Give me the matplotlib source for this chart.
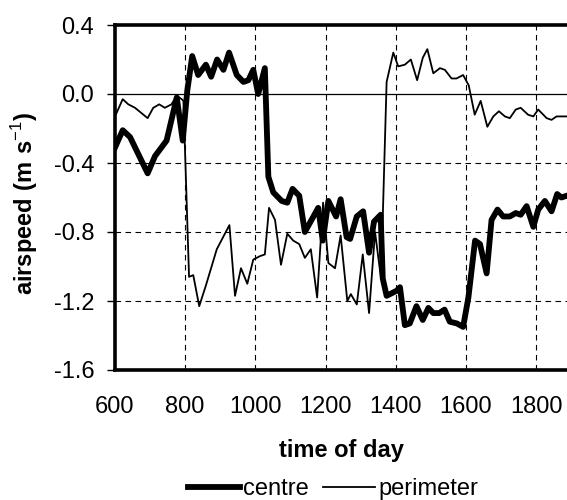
import matplotlib
matplotlib.use("Agg")
import matplotlib.pyplot as plt

plt.rcParams['font.family'] = ['Liberation Sans', 'DejaVu Sans']
plt.rcParams['mathtext.fontset'] = 'custom'
plt.rcParams['mathtext.rm'] = 'Liberation Sans'
plt.rcParams['mathtext.bf'] = 'Liberation Sans:bold'
plt.rcParams['axes.unicode_minus'] = False

# ---- data ----
centre_t = [600, 622, 643, 693, 714, 747, 776, 793, 806, 820, 837, 859, 874, 891,
            909, 925, 947, 966, 980, 994, 1008, 1027, 1037, 1051, 1075, 1091, 1106,
            1125, 1141, 1160, 1179, 1192, 1208, 1230, 1243, 1260, 1270, 1289, 1307,
            1324, 1338, 1357, 1363, 1374, 1403, 1412, 1426, 1440, 1459, 1477, 1493,
            1507, 1524, 1539, 1554, 1574, 1592, 1607, 1626, 1640, 1659, 1673, 1690,
            1706, 1725, 1742, 1756, 1773, 1792, 1806, 1825, 1844, 1860, 1872, 1887]
centre_v = [-0.31, -0.21, -0.25, -0.46, -0.36, -0.27, -0.02, -0.27, 0.02, 0.22, 0.11,
            0.17, 0.10, 0.20, 0.14, 0.24, 0.11, 0.07, 0.08, 0.14, 0.00, 0.15, -0.48,
            -0.57, -0.62, -0.63, -0.55, -0.59, -0.80, -0.73, -0.66, -0.85, -0.62,
            -0.71, -0.61, -0.83, -0.84, -0.71, -0.68, -0.92, -0.74, -0.70, -1.07,
            -1.17, -1.14, -1.12, -1.34, -1.33, -1.23, -1.31, -1.24, -1.27, -1.27,
            -1.25, -1.32, -1.33, -1.35, -1.18, -0.85, -0.87, -1.04, -0.73, -0.67,
            -0.71, -0.71, -0.69, -0.70, -0.65, -0.77, -0.67, -0.62, -0.68, -0.58,
            -0.60, -0.59]

perim_t = [600, 622, 638, 657, 693, 709, 726, 742, 761, 776, 790, 795, 811, 823,
           840, 859, 890, 926, 942, 959, 977, 994, 1013, 1027, 1039, 1056, 1073,
           1091, 1108, 1125, 1141, 1158, 1176, 1193, 1208, 1227, 1243, 1262, 1272,
           1289, 1306, 1324, 1341, 1358, 1374, 1393, 1407, 1426, 1443, 1461, 1477,
           1490, 1507, 1526, 1540, 1559, 1573, 1592, 1608, 1625, 1642, 1661, 1678,
           1694, 1711, 1725, 1742, 1756, 1777, 1792, 1806, 1830, 1844, 1858, 1877,
           1887]
perim_v = [-0.13, -0.03, -0.06, -0.08, -0.14, -0.08, -0.06, -0.08, -0.06, -0.01,
           -0.03, -0.04, -1.06, -1.05, -1.23, -1.11, -0.90, -0.76, -1.17, -1.01,
           -1.10, -0.96, -0.94, -0.93, -0.66, -0.73, -0.99, -0.81, -0.85, -0.87,
           -0.95, -0.90, -1.18, -0.63, -0.98, -1.01, -0.82, -1.20, -1.16, -1.22,
           -0.93, -1.27, -0.80, -1.07, 0.07, 0.24, 0.16, 0.17, 0.20, 0.08, 0.21,
           0.26, 0.12, 0.15, 0.14, 0.09, 0.09, 0.11, 0.05, -0.12, -0.04, -0.19,
           -0.13, -0.10, -0.13, -0.14, -0.09, -0.08, -0.12, -0.13, -0.09, -0.14,
           -0.15, -0.13, -0.13, -0.13]

x_ticks = [600, 800, 1000, 1200, 1400, 1600, 1800]
y_ticks = [-1.6, -1.2, -0.8, -0.4, 0.0, 0.4]
y_ticklabels = ['-1.6', '-1.2', '-0.8', '-0.4', '0.0', '0.4']

FS = 17

fig = plt.figure(figsize=(5.67, 5.0), dpi=100)
ax = fig.add_axes([115/567, 130/500, (567-115)/567, 345/500])

# grid
for xv in x_ticks[1:]:
    ax.axvline(xv, color='black', lw=0.8, ls=(0, (5, 4)), zorder=1)
for yv in [-1.2, -0.8, -0.4]:
    ax.axhline(yv, color='black', lw=0.8, ls=(0, (5, 4)), zorder=1)
ax.axhline(0.0, color='black', lw=0.9, ls='-', zorder=1)

ax.plot(perim_t, perim_v, color='black', lw=1.3, zorder=3, label='perimeter')
ax.plot(centre_t, centre_v, color='black', lw=4.2, zorder=4, label='centre')

ax.set_xlim(600, 1888)
ax.set_ylim(-1.6, 0.4)
ax.set_xticks(x_ticks)
ax.set_yticks(y_ticks)
ax.set_yticklabels(y_ticklabels)
ax.tick_params(axis='x', length=0, pad=19, labelsize=FS)
ax.tick_params(axis='y', length=6, width=1, direction='out', pad=9, labelsize=FS)

for s in ['left', 'bottom', 'top']:
    ax.spines[s].set_linewidth(2.6)
ax.spines['right'].set_visible(False)

ax.set_xlabel('time of day', fontsize=FS, fontweight='bold', labelpad=15)
fig.text(25/567, 1 - 203/500,
         r'$\mathbf{airspeed\ (m\ s}^{\mathrm{-1}}\mathbf{)}$', rotation=90,
         fontsize=FS, ha='center', va='center')

h, l = ax.get_legend_handles_labels()
fig.legend([h[1], h[0]], [l[1], l[0]], loc='center', ncol=2,
           bbox_to_anchor=(333/567, 11/500), frameon=False, fontsize=FS,
           handlelength=2.2, handletextpad=0.15, columnspacing=0.6,
           borderpad=0, borderaxespad=0)

fig.savefig('out.png', dpi=100)
